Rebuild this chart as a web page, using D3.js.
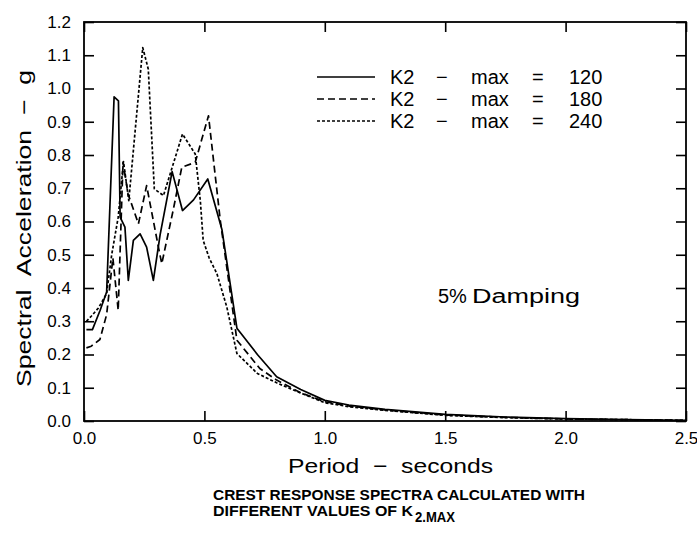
<!DOCTYPE html>
<html><head><meta charset="utf-8">
<script src="https://cdn.jsdelivr.net/npm/d3@7"></script>
<style>body{margin:0;background:#fff}svg{display:block}text{font-family:"Liberation Sans",Arial,sans-serif;fill:#000}</style>
</head><body><svg id="c" width="697" height="539"></svg>
<script>
const xTicks = [0.0, 0.5, 1.0, 1.5, 2.0, 2.5];
const yTicks = [0.0,0.1,0.2,0.3,0.4,0.5,0.6,0.7,0.8,0.9,1.0,1.1,1.2];
const seriesValues = ["120", "180", "240"];
const period120 = [0.01,0.035,0.067,0.094,0.125,0.143,0.15,0.17,0.184,0.205,0.233,0.26,0.288,0.316,0.366,0.409,0.455,0.514,0.573,0.635,0.72,0.8,0.9,1.0,1.1,1.25,1.5,1.75,2.0,2.25,2.5];
const acc120 = [0.275,0.275,0.333,0.388,0.975,0.963,0.613,0.583,0.423,0.543,0.563,0.523,0.423,0.56,0.75,0.633,0.665,0.728,0.575,0.279,0.2,0.133,0.095,0.062,0.048,0.035,0.02,0.012,0.007,0.004,0.002];
const period180 = [0.01,0.03,0.066,0.094,0.12,0.142,0.162,0.183,0.226,0.26,0.309,0.323,0.37,0.406,0.462,0.517,0.566,0.635,0.73,0.8,0.9,1.0,1.1,1.25,1.5,1.75,2.0,2.25,2.5];
const acc180 = [0.22,0.225,0.245,0.32,0.49,0.333,0.778,0.683,0.593,0.708,0.523,0.473,0.633,0.763,0.778,0.918,0.603,0.243,0.158,0.123,0.085,0.058,0.045,0.033,0.018,0.011,0.006,0.004,0.002];
const period240 = [0.01,0.03,0.06,0.094,0.115,0.142,0.164,0.186,0.244,0.267,0.292,0.33,0.409,0.462,0.483,0.495,0.52,0.552,0.593,0.635,0.72,0.8,0.87,1.0,1.1,1.25,1.5,1.75,2.0,2.25,2.5];
const acc240 = [0.3,0.315,0.34,0.383,0.5,0.613,0.78,0.663,1.123,1.058,0.698,0.678,0.863,0.803,0.663,0.543,0.49,0.443,0.343,0.203,0.143,0.115,0.093,0.055,0.043,0.032,0.017,0.01,0.006,0.004,0.002];
const dashes = [null, "7,4", "3,2"];

const svg = d3.select("#c");
const L=84, R=686, T=22, B=421;
const x = d3.scaleLinear().domain([0,2.5]).range([L,R]);
const y = d3.scaleLinear().domain([0,1.2]).range([B,T]);

svg.append("rect").attr("x",L).attr("y",T).attr("width",R-L).attr("height",B-T)
  .attr("fill","none").attr("stroke","#000").attr("stroke-width",1.8);

const fmt = d3.format(".1f");
const ax = svg.append("g").attr("transform",`translate(0,${B})`)
  .call(d3.axisBottom(x).tickValues(xTicks).tickSize(-10).tickPadding(11).tickFormat(fmt));
const ay = svg.append("g").attr("transform",`translate(${L},0)`)
  .call(d3.axisLeft(y).tickValues(yTicks).tickSize(-10).tickPadding(13).tickFormat(fmt));
const axT = svg.append("g").attr("transform",`translate(0,${T})`)
  .call(d3.axisTop(x).tickValues(xTicks).tickSize(-10).tickFormat(""));
const ayR = svg.append("g").attr("transform",`translate(${R},0)`)
  .call(d3.axisRight(y).tickValues(yTicks).tickSize(-10).tickFormat(""));
[ax,ay,axT,ayR].forEach(g=>{
  g.select(".domain").remove();
  g.selectAll("line").attr("stroke","#000").attr("stroke-width",1.6);
  g.selectAll("text").attr("font-size",17).attr("fill","#000").style("font-family",'"Liberation Sans",Arial,sans-serif');
});
ax.selectAll("text").attr("dy","0.71em");

const series = [[period120,acc120],[period180,acc180],[period240,acc240]];
const line = d3.line().x(d=>x(d[0])).y(d=>y(d[1]));
series.forEach((s,i)=>{
  const pts = s[0].map((p,j)=>[p,s[1][j]]);
  svg.append("path").datum(pts).attr("d",line).attr("fill","none")
    .attr("stroke","#000").attr("stroke-width",1.7)
    .attr("stroke-linejoin","round")
    .attr("stroke-dasharray",dashes[i]);
});

// legend
const legY = [77,99,121];
seriesValues.forEach((v,i)=>{
  svg.append("line").attr("x1",317).attr("x2",375).attr("y1",legY[i]).attr("y2",legY[i])
    .attr("stroke","#000").attr("stroke-width",1.6).attr("stroke-dasharray",dashes[i]);
  const t = svg.append("text").attr("y",legY[i]).attr("dy","0.36em").attr("font-size",20);
  [["K2",390],["\u2212",436],["max",471],["=",532],[v,569]].forEach(([s,px])=>{
    t.append("tspan").attr("x",px).text(s);
  });
});

// annotation
const dmp = svg.append("text").attr("y",303).attr("font-size",20);
dmp.append("tspan").attr("x",438).text("5%");
dmp.append("tspan").attr("x",472).attr("textLength",108).attr("lengthAdjust","spacingAndGlyphs").text("Damping");

// axis titles
svg.append("text").attr("x",288).attr("y",473).attr("font-size",21)
  .attr("textLength",205).attr("lengthAdjust","spacingAndGlyphs")
  .style("white-space","pre").text("Period  \u2212  seconds");
svg.append("text").attr("transform","translate(31,387) rotate(-90)")
  .attr("font-size",21).attr("textLength",317).attr("lengthAdjust","spacingAndGlyphs")
  .style("white-space","pre").text("Spectral  Acceleration  \u2212  g");

// caption
svg.append("text").attr("x",213).attr("y",500).attr("font-size",15).attr("font-weight","bold")
  .attr("textLength",372).attr("lengthAdjust","spacingAndGlyphs").text("CREST RESPONSE SPECTRA CALCULATED WITH");
svg.append("text").attr("x",213).attr("y",516).attr("font-size",15).attr("font-weight","bold")
  .attr("textLength",200).attr("lengthAdjust","spacingAndGlyphs").text("DIFFERENT VALUES OF K");
svg.append("text").attr("x",415).attr("y",522).attr("font-size",14).attr("font-weight","bold")
  .attr("textLength",40).attr("lengthAdjust","spacingAndGlyphs").text("2.MAX");
</script></body></html>
